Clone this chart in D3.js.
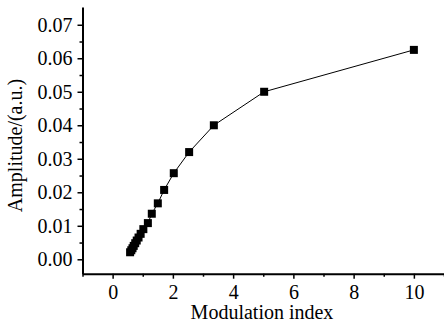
<!DOCTYPE html>
<html>
<head>
<meta charset="utf-8">
<script src="https://cdn.jsdelivr.net/npm/d3@7"></script>
<style>
  body { margin: 0; background: #fff; }
  svg text { font-family: "Liberation Serif", "Times New Roman", serif; fill: #000; }
</style>
</head>
<body>
<div id="chart"></div>
<script>
// modulation index vs amplitude
const modIndex = [0.58, 0.62, 0.66, 0.70, 0.75, 0.80, 0.86, 0.93, 1.02, 1.17, 1.30, 1.50, 1.71, 2.03, 2.54, 3.36, 5.03, 10.0];
const amplitude = [0.0021, 0.0027, 0.0033, 0.0040, 0.0048, 0.0056, 0.0065, 0.0076, 0.0090, 0.0108, 0.0136, 0.0167, 0.0207, 0.0257, 0.0320, 0.0400, 0.0500, 0.0625];
const xTicks = [0, 2, 4, 6, 8, 10];
const yTicks = [0, 0.01, 0.02, 0.03, 0.04, 0.05, 0.06, 0.07];

const width = 444, height = 322;
const m = { left: 82.5, right: 444, top: 7, bottom: 273.7 };

const svg = d3.select('#chart').append('svg')
  .attr('width', width)
  .attr('height', height);

const x = d3.scaleLinear().domain([-1, 11]).range([m.left, m.right]);
const y = d3.scaleLinear().domain([-0.0043, 0.0753]).range([m.bottom, m.top]);

const data = modIndex.map((v, i) => ({ x: v, y: amplitude[i] }));

// minor ticks
svg.append('g')
  .attr('transform', `translate(0,${m.bottom})`)
  .call(d3.axisBottom(x).tickValues(d3.range(-1, 12, 2)).tickSize(3).tickFormat(''))
  .call(g => g.select('.domain').remove())
  .selectAll('line').attr('stroke-width', 1.5);

svg.append('g')
  .attr('transform', `translate(${m.left},0)`)
  .call(d3.axisLeft(y).tickValues(d3.range(0.005, 0.075, 0.01)).tickSize(3).tickFormat(''))
  .call(g => g.select('.domain').remove())
  .selectAll('line').attr('stroke-width', 1.5);

// major axes
const xAxis = svg.append('g')
  .attr('transform', `translate(0,${m.bottom})`)
  .call(d3.axisBottom(x).tickValues(xTicks).tickSize(5).tickSizeOuter(0).tickFormat(d3.format('d')));
xAxis.select('.domain').attr('stroke-width', 2);
xAxis.selectAll('.tick line').attr('stroke-width', 1.5);
xAxis.selectAll('text').attr('font-size', 20).attr('y', 25).attr('dy', 0);

const yAxis = svg.append('g')
  .attr('transform', `translate(${m.left},0)`)
  .call(d3.axisLeft(y).tickValues(yTicks).tickSize(5).tickSizeOuter(0).tickPadding(5).tickFormat(d3.format('.2f')));
yAxis.select('.domain').attr('stroke-width', 2);
yAxis.selectAll('.tick line').attr('stroke-width', 1.5);
yAxis.selectAll('text').attr('font-size', 20).attr('dy', 6.5);

// line + markers
const line = d3.line().x(d => x(d.x)).y(d => y(d.y));
svg.append('path')
  .datum(data)
  .attr('d', line)
  .attr('fill', 'none')
  .attr('stroke', '#000')
  .attr('stroke-width', 1);

const s = 8;
svg.selectAll('rect.pt')
  .data(data)
  .enter()
  .append('rect')
  .attr('class', 'pt')
  .attr('x', d => x(d.x) - s / 2)
  .attr('y', d => y(d.y) - s / 2)
  .attr('width', s)
  .attr('height', s)
  .attr('fill', '#000');

// titles
svg.append('text')
  .attr('x', 262)
  .attr('y', 319)
  .attr('text-anchor', 'middle')
  .attr('font-size', 20)
  .text('Modulation index');

svg.append('text')
  .attr('transform', `translate(22,145.5) rotate(-90)`)
  .attr('text-anchor', 'middle')
  .attr('font-size', 20)
  .text('Amplitude/(a.u.)');
</script>
</body>
</html>
